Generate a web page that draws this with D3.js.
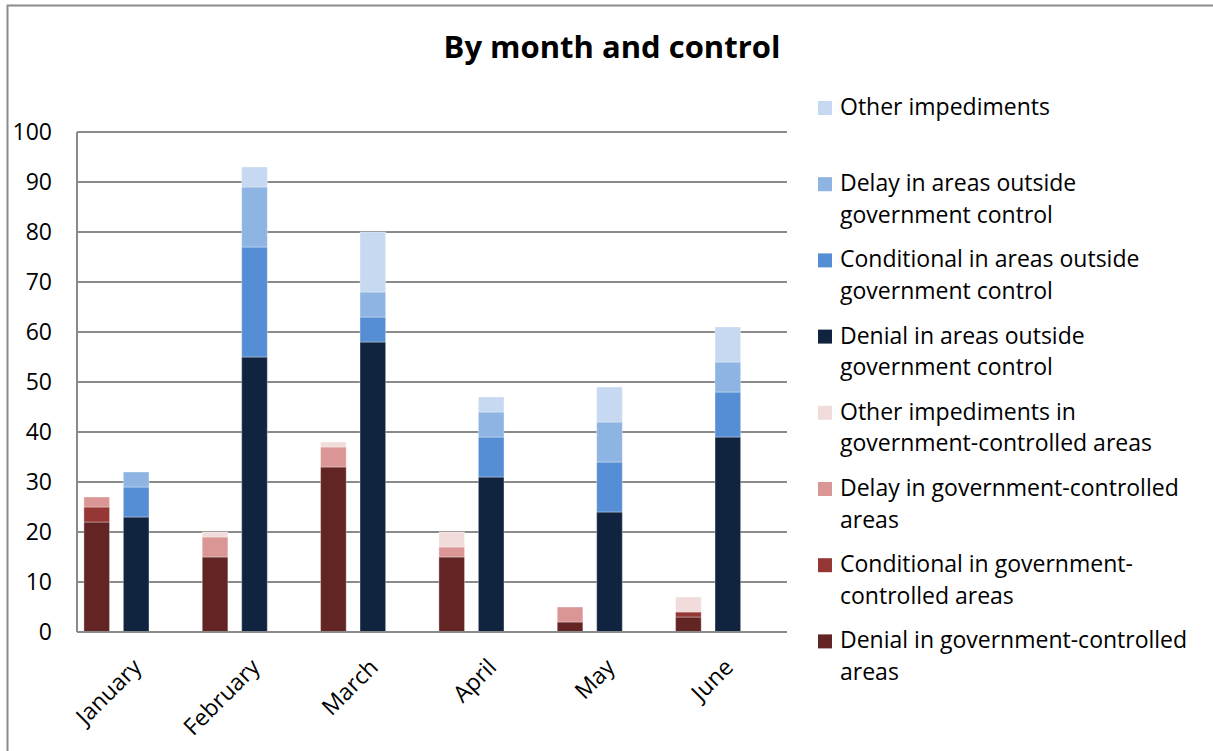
<!DOCTYPE html>
<html>
<head>
<meta charset="utf-8">
<script src="https://cdn.jsdelivr.net/npm/d3@7"></script>
<style>
  html, body { margin: 0; padding: 0; background: #fff; }
  svg { display: block; font-family: "Open Sans", sans-serif; }
</style>
</head>
<body>
<svg id="chart" width="1213" height="751"></svg>
<script>
// ---- data ----
const months = ["January", "February", "March", "April", "May", "June"];
const yTicks = [0, 10, 20, 30, 40, 50, 60, 70, 80, 90, 100];

// government-controlled areas (bottom to top)
const govDenial      = [22, 15, 33, 15, 2, 3];
const govConditional = [3, 0, 0, 0, 0, 1];
const govDelay       = [2, 4, 4, 2, 3, 0];
const govOther       = [0, 1, 1, 3, 0, 3];

// areas outside government control (bottom to top)
const outDenial      = [23, 55, 58, 31, 24, 39];
const outConditional = [6, 22, 5, 8, 10, 9];
const outDelay       = [3, 12, 5, 5, 8, 6];
const outOther       = [0, 4, 12, 3, 7, 7];

const govKeys = ["govDenial", "govConditional", "govDelay", "govOther"];
const outKeys = ["outDenial", "outConditional", "outDelay", "outOther"];

const seriesNames = {
  outOther: ["Other impediments"],
  outDelay: ["Delay in areas outside", "government control"],
  outConditional: ["Conditional in areas outside", "government control"],
  outDenial: ["Denial in areas outside", "government control"],
  govOther: ["Other impediments in", "government-controlled areas"],
  govDelay: ["Delay in government-controlled", "areas"],
  govConditional: ["Conditional in government-", "controlled areas"],
  govDenial: ["Denial in government-controlled", "areas"]
};
const legendOrder = ["outOther", "outDelay", "outConditional", "outDenial",
                     "govOther", "govDelay", "govConditional", "govDenial"];

const colors = {
  govDenial: "#632523", govConditional: "#953735", govDelay: "#d99694", govOther: "#f2dcdb",
  outDenial: "#11243f", outConditional: "#558ed5", outDelay: "#8eb4e3", outOther: "#c6d9f1"
};

// build table
const rows = months.map((m, i) => ({
  month: m,
  govDenial: govDenial[i], govConditional: govConditional[i], govDelay: govDelay[i], govOther: govOther[i],
  outDenial: outDenial[i], outConditional: outConditional[i], outDelay: outDelay[i], outOther: outOther[i]
}));

// ---- layout ----
const svg = d3.select("#chart");
const plot = { left: 77, right: 787, top: 132, bottom: 632 };
const gridColor = "#8a8a8a";

// outer frame
svg.append("rect").attr("x", 7.5).attr("y", 5.5).attr("width", 1230).attr("height", 780)
  .attr("fill", "#fff").attr("stroke", "#8c8c8c").attr("stroke-width", 2);

const x0 = d3.scaleBand().domain(months).range([plot.left, plot.right]).paddingInner(0).paddingOuter(0);
const x1 = d3.scaleBand().domain(["gov", "out", "blank"]).range([0, x0.bandwidth()])
  .paddingInner(0.35).paddingOuter(0.175);
const y = d3.scaleLinear().domain([0, 100]).range([plot.bottom, plot.top]);

// gridlines
svg.append("g").selectAll("line").data(yTicks).join("line")
  .attr("x1", plot.left).attr("x2", plot.right)
  .attr("y1", d => y(d)).attr("y2", d => y(d))
  .attr("stroke", gridColor).attr("stroke-width", 2);

// y axis line
svg.append("line").attr("x1", plot.left).attr("x2", plot.left)
  .attr("y1", plot.top).attr("y2", plot.bottom)
  .attr("stroke", gridColor).attr("stroke-width", 2);

// y tick labels via axis
const yAxis = svg.append("g").attr("transform", `translate(${plot.left},0)`)
  .call(d3.axisLeft(y).tickValues(yTicks).tickSize(0).tickPadding(25));
yAxis.select(".domain").remove();
yAxis.selectAll("text").attr("font-size", 23).attr("fill", "#000")
  .attr("font-family", "Open Sans, sans-serif");

// stacks
const govStack = d3.stack().keys(govKeys)(rows);
const outStack = d3.stack().keys(outKeys)(rows);

function drawStack(stack, slot) {
  svg.append("g").selectAll("g").data(stack).join("g")
    .attr("fill", d => colors[d.key])
    .selectAll("rect").data(d => d.filter(s => s[1] - s[0] > 0)).join("rect")
    .attr("x", d => x0(d.data.month) + x1(slot))
    .attr("width", x1.bandwidth())
    .attr("y", d => y(d[1]))
    .attr("height", d => y(d[0]) - y(d[1]))
    .attr("stroke", "rgba(255,255,255,0.35)").attr("stroke-width", 1);
}
drawStack(govStack, "gov");
drawStack(outStack, "out");

// x axis line
svg.append("line").attr("x1", plot.left).attr("x2", plot.right)
  .attr("y1", plot.bottom).attr("y2", plot.bottom)
  .attr("stroke", gridColor).attr("stroke-width", 2);

// x labels
svg.append("g").selectAll("text").data(months).join("text")
  .attr("transform", d => `translate(${x0(d) + x0.bandwidth() / 2 + 1},${plot.bottom + 31}) rotate(-45)`)
  .attr("text-anchor", "end")
  .attr("dy", "0.35em")
  .attr("font-size", 23)
  .attr("fill", "#000")
  .text(d => d);

// title
svg.append("text").attr("x", 612).attr("y", 58).attr("text-anchor", "middle")
  .attr("font-size", 31).attr("font-weight", "bold").attr("fill", "#000")
  .text("By month and control");

// legend
const legend = svg.append("g");
const items = legend.selectAll("g").data(legendOrder).join("g")
  .attr("transform", (d, i) => `translate(818,${107 + 76.2 * i})`);
items.append("rect").attr("x", 0).attr("y", -6).attr("width", 14).attr("height", 14)
  .attr("fill", d => colors[d]);
items.append("text").attr("x", 22).attr("font-size", 23).attr("fill", "#000")
  .selectAll("tspan").data(d => seriesNames[d]).join("tspan")
  .attr("x", 22).attr("y", (d, i) => i * 31.5).attr("dy", "0.35em")
  .text(d => d);
</script>
</body>
</html>
